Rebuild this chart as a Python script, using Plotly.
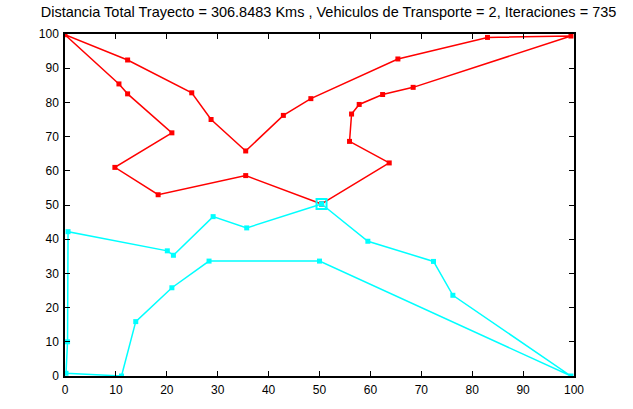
import plotly.graph_objects as go

# Depot shared by both vehicles
depot_x = [50.4]
depot_y = [50.3]

# Vehicle 1 route (red), starting and ending at the depot
route1_x = [50.4, 35.5, 18.3, 9.8, 21.0, 12.3, 10.6, 0.0, 12.3, 24.9, 28.7, 35.5,
            42.9, 48.3, 65.4, 83.0, 99.4, 68.4, 62.4, 57.8, 56.3, 55.9, 63.7, 50.4]
route1_y = [50.3, 58.6, 53.0, 61.0, 71.1, 82.5, 85.4, 99.8, 92.4, 82.8, 75.0, 65.8,
            76.2, 81.1, 92.7, 99.0, 99.4, 84.4, 82.3, 79.4, 76.6, 68.6, 62.3, 50.3]

# Vehicle 2 route (cyan), starting and ending at the depot
route2_x = [50.4, 35.7, 29.1, 21.3, 20.1, 0.6, 0.5, 0.2, 11.1, 13.9, 21.0, 28.3,
            50.0, 99.4, 76.2, 72.4, 59.5, 50.4]
route2_y = [50.3, 43.3, 46.6, 35.3, 36.6, 42.2, 10.0, 0.8, 0.0, 15.9, 25.8, 33.6,
            33.6, 0.0, 23.6, 33.5, 39.4, 50.3]

ticks = [0, 10, 20, 30, 40, 50, 60, 70, 80, 90, 100]
title_text = ("Distancia Total Trayecto = 306.8483 Kms , Vehiculos de Transporte = 2, "
              "Iteraciones = 735")

fig = go.Figure()
fig.add_trace(go.Scatter(x=route1_x, y=route1_y, mode="lines+markers",
                         line=dict(color="#ff0000", width=1.5),
                         marker=dict(color="#ff0000", size=5, symbol="square"),
                         showlegend=False))
fig.add_trace(go.Scatter(x=route2_x, y=route2_y, mode="lines+markers",
                         line=dict(color="#00ffff", width=1.5),
                         marker=dict(color="#00ffff", size=5, symbol="square"),
                         showlegend=False))
fig.add_trace(go.Scatter(x=depot_x, y=depot_y, mode="markers",
                         marker=dict(symbol="square-open", size=10, color="#00ffff",
                                     line=dict(width=2, color="#00ffff")),
                         showlegend=False))

axis_common = dict(range=[0, 100], tickvals=ticks, ticks="inside", ticklen=5,
                   tickcolor="black", tickwidth=1, showline=True, linecolor="black",
                   linewidth=1.5, mirror="ticks", showgrid=False, zeroline=False,
                   tickfont=dict(family="Liberation Sans, Arial", size=12, color="black"))

fig.update_layout(
    width=633, height=409,
    margin=dict(l=65, r=59, t=34, b=21),
    paper_bgcolor="white", plot_bgcolor="white",
    title=dict(text=title_text, x=0.519, xanchor="center", y=0.972, yanchor="middle",
               font=dict(family="Liberation Sans, Arial", size=14.5, color="black")),
    xaxis=axis_common,
    yaxis=axis_common,
)
fig.update_xaxes(ticklabelstandoff=2)
fig.update_yaxes(ticklabelstandoff=2)

fig.write_html("out.html")
